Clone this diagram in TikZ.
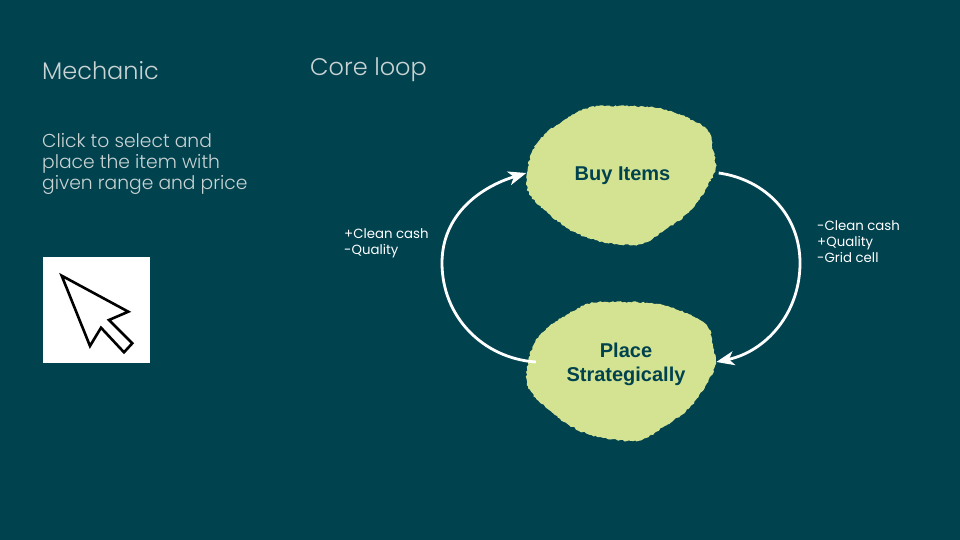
\documentclass[tikz,border=0pt]{standalone}
\usepackage{fontspec}
\setmainfont{Poppins}
\newfontfamily\poplight{Poppins}[UprightFont=* Light]
\newfontfamily\blobfont{Liberation Sans}
\usetikzlibrary{arrows.meta,
           calc,
           decorations.pathmorphing}
\definecolor{slidebg}{HTML}{01424F}
\definecolor{blobgreen}{HTML}{D3E391}
\definecolor{headgrey}{HTML}{C9D3D3}
\tikzset{
  headlabel/.style={anchor=west,inner sep=0pt,text=headgrey,font=\poplight\fontsize{24}{24}\selectfont},
  bodylabel/.style={anchor=west,inner sep=0pt,align=left,text=headgrey,font=\poplight\fontsize{18.7}{21}\selectfont},
  looplabel/.style={anchor=west,inner sep=0pt,align=left,text=white,font=\fontsize{13.3}{16}\selectfont},
  blobnode/.style={align=center,inner sep=0pt,text=slidebg,font=\blobfont\bfseries\fontsize{20}{24}\selectfont},
  blobfill/.style={fill=blobgreen,decorate,decoration={random steps,segment length=2pt,amplitude=.8pt}},
  loopline/.style={draw=white,line width=2.8pt,-{Stealth[length=18pt,width=14pt,inset=5pt]}}
}
\begin{document}
\begin{tikzpicture}[x=1pt,y=-1pt]
\fill[slidebg](0,0)rectangle(960,540);
\node[headlabel](mechanic)at(42,71){Mechanic};
\node[headlabel](coreloop)at(310,70){Core loop};
\node[bodylabel](howto)at(42,164){Click to select and\\place the item with\\given range and price};
% cursor
\node[fill=white,inner sep=0pt,minimum width=107pt,minimum height=106pt](cursorbox)at(96.5,310){};
\draw[line width=2.6pt,line join=miter](61.7,275.7)--(128.3,311.7)--(109,320)--(132.3,343.3)--(124,352.3)--(101,327.7)--(90,346)--cycle;
% blobs
\pgfmathsetseed{7}
\foreach \blobdy in {0,196}{
  \fill[blobfill,shift={(0,\blobdy)}]plot[smooth cycle,tension=.9]coordinates{
    (625,106)(692,120)(713,150)(707,187)(668,228)(617,244)(549,214)(528,167)(566,119)};
}
\node[blobnode,minimum width=192pt](buy)at(622.5,176){Buy Items};
\node[blobnode,minimum width=180pt](place)at(626,364.5){Place\\Strategically};
\coordinate(rightmid)at(800,263);
\coordinate(leftmid)at(442,263);
\draw[loopline]($(buy.east)+(0,-3)$)to[out=-8,in=90](rightmid)to[out=-90,in=12]($(place.east)+(0,-2.5)$);
\draw[loopline]($(place.west)+(0,-2.5)$)to[out=176,in=-90](leftmid)to[out=90,in=197]($(buy.west)+(0,-3)$);
\node[looplabel](leftlabel)at(344,243){+Clean cash\\-Quality};
\node[looplabel](rightlabel)at(817,242){-Clean cash\\+Quality\\-Grid cell};
\end{tikzpicture}
\end{document}
